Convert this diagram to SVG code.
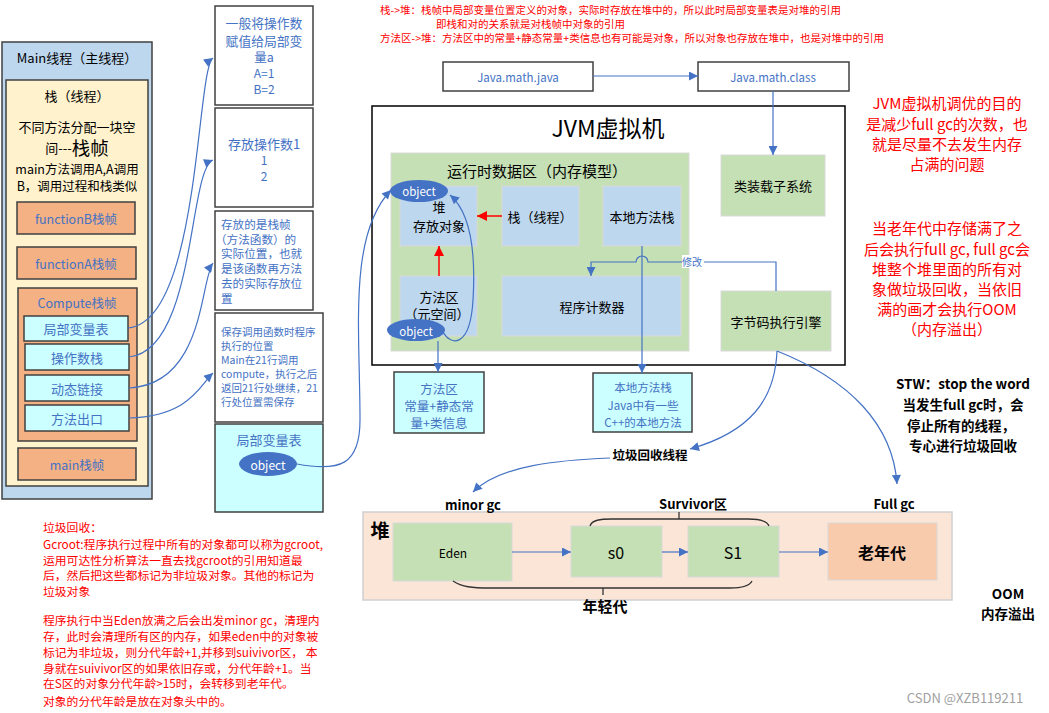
<svg xmlns="http://www.w3.org/2000/svg" width="1049" height="713" viewBox="0 0 1049 713">
<style>
text{font-family:"Noto Sans CJK SC","Liberation Sans",sans-serif;}
.c{text-anchor:middle;dominant-baseline:central;}
.l{dominant-baseline:central;}
.bl{fill:#4472C4;}
.k{fill:#000;}
.r{fill:#FF0000;}
.b{font-weight:bold;}
.box{stroke:#404040;stroke-width:1.5;}
.wb{fill:#fff;stroke:#404040;stroke-width:1.5;}
.cy{fill:#CCFFFF;stroke:#404040;stroke-width:1.5;}
.or{fill:#F4B183;stroke:#404040;stroke-width:1.5;}
.gr{fill:#C5E0B4;stroke:#D9D9D9;stroke-width:1;}
.lb{fill:#BDD7EE;stroke:#D9D9D9;stroke-width:1;}
.con{fill:none;stroke:#4472C4;stroke-width:1.2;}
.red{fill:none;stroke:#FF0000;stroke-width:1.5;}
.brace{fill:none;stroke:#333;stroke-width:1.3;}
.obj{fill:#4472C4;}
</style>
<defs>
<marker id="ab" viewBox="0 0 10 10" refX="10" refY="5" markerWidth="10" markerHeight="9" markerUnits="userSpaceOnUse" orient="auto"><path d="M0,0 L10,5 L0,10 z" fill="#4472C4"/></marker>
<marker id="ar" viewBox="0 0 10 10" refX="10" refY="5" markerWidth="11" markerHeight="10" markerUnits="userSpaceOnUse" orient="auto"><path d="M0,0 L10,5 L0,10 z" fill="#FF0000"/></marker>
</defs>
<rect width="1049" height="713" fill="#fff"/>

<!-- top red notes -->
<g id="note-top" font-size="10.5">
<text x="380" y="9" class="l r">栈-&gt;堆：栈帧中局部变量位置定义的对象，实际时存放在堆中的，所以此时局部变量表是对堆的引用</text>
<text x="436" y="23" class="l r">即栈和对的关系就是对栈帧中对象的引用</text>
<text x="380" y="37" class="l r">方法区-&gt;堆：方法区中的常量+静态常量+类信息也有可能是对象，所以对象也存放在堆中，也是对堆中的引用</text>
</g>

<!-- Main thread -->
<g id="main-thread">
<rect x="2" y="42" width="150" height="457" fill="#BDD7EE" class="box"/>
<text x="77" y="57" class="c k" font-size="13">Main线程（主线程）</text>
</g>
<g id="stack-thread">
<rect x="6" y="80" width="142" height="406" fill="#FFF2CC" class="box"/>
<text x="77" y="95" class="c k" font-size="13">栈（线程）</text>
<text x="77" y="126" class="c k" font-size="13">不同方法分配一块空</text>
<text x="77" y="147" class="c k" font-size="13">间---<tspan font-size="18.5">栈帧</tspan></text>
<text x="77" y="168" class="c k" font-size="12.5">main方法调用A,A调用</text>
<text x="77" y="185" class="c k" font-size="12.5">B，调用过程和栈类似</text>
</g>
<g id="functionB">
<rect x="17" y="202" width="118" height="32" class="or"/>
<text x="76" y="218" class="c bl" font-size="12.5">functionB栈帧</text>
</g>
<g id="functionA">
<rect x="17" y="247" width="119" height="32" class="or"/>
<text x="76" y="263" class="c bl" font-size="12.5">functionA栈帧</text>
</g>
<g id="compute">
<rect x="18" y="288" width="119" height="153" class="or"/>
<text x="77" y="302" class="c bl" font-size="12.5">Compute栈帧</text>
</g>
<g id="local-var">
<rect x="24" y="316" width="104" height="25" class="cy"/>
<text x="76" y="328.5" class="c bl" font-size="13">局部变量表</text>
</g>
<g id="operand-stack">
<rect x="25" y="344" width="104" height="26" class="cy"/>
<text x="77" y="357" class="c bl" font-size="13">操作数栈</text>
</g>
<g id="dynamic-link">
<rect x="25" y="375" width="104" height="26" class="cy"/>
<text x="77" y="388" class="c bl" font-size="13">动态链接</text>
</g>
<g id="method-exit">
<rect x="25" y="405" width="104" height="26" class="cy"/>
<text x="77" y="418" class="c bl" font-size="13">方法出口</text>
</g>
<g id="main-frame">
<rect x="18" y="448" width="118" height="32" class="or"/>
<text x="77" y="464" class="c bl" font-size="12.5">main栈帧</text>
</g>

<!-- middle description boxes -->
<g id="desc1">
<rect x="215" y="6" width="98" height="99" class="wb"/>
<text x="264" y="22.5" class="c bl" font-size="12.8">一般将操作数</text>
<text x="264" y="40" class="c bl" font-size="12.8">赋值给局部变</text>
<text x="264" y="56.5" class="c bl" font-size="12.5">量a</text>
<text x="264" y="72.5" class="c bl" font-size="12">A=1</text>
<text x="264" y="88.5" class="c bl" font-size="12">B=2</text>
</g>
<g id="desc2">
<rect x="215" y="108" width="98" height="99" class="wb"/>
<text x="264" y="143" class="c bl" font-size="13">存放操作数1</text>
<text x="264" y="159" class="c bl" font-size="12">1</text>
<text x="264" y="175" class="c bl" font-size="12">2</text>
</g>
<g id="desc3" font-size="11.6">
<rect x="215" y="211" width="98" height="99" class="wb"/>
<text x="221" y="224" class="l bl">存放的是栈帧</text>
<text x="215" y="238.7" class="l bl">（方法函数）的</text>
<text x="221" y="253.4" class="l bl">实际位置，也就</text>
<text x="221" y="268.1" class="l bl">是该函数再方法</text>
<text x="221" y="282.8" class="l bl">去的实际存放位</text>
<text x="221" y="297.5" class="l bl">置</text>
</g>
<g id="desc4" font-size="10.5">
<rect x="215" y="313" width="108" height="109" class="wb"/>
<text x="221" y="331" class="l bl">保存调用函数时程序</text>
<text x="221" y="345" class="l bl">执行的位置</text>
<text x="221" y="359" class="l bl">Main在21行调用</text>
<text x="221" y="373" class="l bl">compute，执行之后</text>
<text x="221" y="387" class="l bl">返回21行处继续，21</text>
<text x="221" y="401" class="l bl">行处位置需保存</text>
</g>
<g id="local-var-table">
<rect x="215" y="424" width="108" height="88" class="cy"/>
<text x="269" y="439" class="c bl" font-size="13">局部变量表</text>
<ellipse cx="268" cy="464" rx="29" ry="12" class="obj"/>
<text x="268" y="464" class="c" fill="#fff" font-size="12">object</text>
</g>

<!-- JVM -->
<g id="java-file">
<rect x="443" y="62" width="150" height="29" class="wb"/>
<text x="518" y="76.5" class="c bl" font-size="11.5">Java.math.java</text>
</g>
<g id="class-file">
<rect x="698" y="62" width="151" height="29" class="wb"/>
<text x="773" y="76.5" class="c bl" font-size="11.5">Java.math.class</text>
</g>
<g id="jvm">
<rect x="372" y="106" width="473" height="259" fill="#fff" stroke="#000" stroke-width="1.5"/>
<text x="608" y="127" class="c k" font-size="23">JVM虚拟机</text>
</g>
<g id="runtime-area">
<rect x="391" y="153" width="298" height="198" class="gr"/>
<text x="537" y="170" class="c k" font-size="15">运行时数据区（内存模型）</text>
</g>
<g id="heap-area">
<rect x="400" y="186" width="77" height="60" class="lb"/>
<text x="439" y="206" class="c k" font-size="13">堆</text>
<text x="439" y="225" class="c k" font-size="13">存放对象</text>
</g>
<g id="stack-area">
<rect x="502" y="186" width="77" height="60" class="lb"/>
<text x="540" y="216" class="c k" font-size="13">栈（线程）</text>
</g>
<g id="native-stack">
<rect x="603" y="186" width="78" height="60" class="lb"/>
<text x="642" y="216" class="c k" font-size="13">本地方法栈</text>
</g>
<g id="method-area">
<rect x="400" y="276" width="77" height="60" class="lb"/>
<text x="439" y="296" class="c k" font-size="13">方法区</text>
<text x="437" y="313" class="c k" font-size="13">（元空间）</text>
</g>
<g id="pc-counter">
<rect x="502" y="276" width="179" height="60" class="lb"/>
<text x="592" y="306" class="c k" font-size="13">程序计数器</text>
</g>
<g id="class-loader">
<rect x="721" y="155" width="104" height="61" class="gr"/>
<text x="773" y="185.5" class="c k" font-size="13">类装载子系统</text>
</g>
<g id="exec-engine">
<rect x="721" y="291" width="110" height="60" class="gr"/>
<text x="776" y="321" class="c k" font-size="13">字节码执行引擎</text>
</g>
<g id="object-heap">
<ellipse cx="419" cy="191" rx="29" ry="11" class="obj"/>
<text x="419" y="191" class="c" fill="#fff" font-size="11.5">object</text>
</g>
<g id="object-method">
<ellipse cx="416" cy="330" rx="29" ry="11" class="obj"/>
<text x="416" y="330.5" class="c" fill="#fff" font-size="11.5">object</text>
</g>
<g id="method-area-box">
<rect x="394" y="372" width="90" height="61" class="cy"/>
<text x="439" y="388" class="c bl" font-size="12.5">方法区</text>
<text x="439" y="405" class="c bl" font-size="12.5">常量+静态常</text>
<text x="439" y="422" class="c bl" font-size="12.5">量+类信息</text>
</g>
<g id="native-box">
<rect x="593" y="373" width="99" height="59" class="cy"/>
<text x="643" y="387" class="c bl" font-size="11.5">本地方法栈</text>
<text x="643" y="405" class="c bl" font-size="11.5">Java中有一些</text>
<text x="643" y="422" class="c bl" font-size="11.5">C++的本地方法</text>
</g>

<!-- heap / GC -->
<g id="heap">
<rect x="363" y="512" width="589" height="88" fill="#FBE5D6" stroke="#D0D0D0" stroke-width="1.5"/>
<text x="380" y="529" class="c k b" font-size="19">堆</text>
</g>
<g id="eden">
<rect x="393" y="523" width="119" height="58" class="gr"/>
<text x="453" y="552" class="c k" font-size="12">Eden</text>
</g>
<g id="s0">
<rect x="571" y="526" width="91" height="51" class="gr"/>
<text x="616" y="552" class="c k" font-size="16">s0</text>
</g>
<g id="s1">
<rect x="688" y="526" width="91" height="51" class="gr"/>
<text x="733" y="552" class="c k" font-size="16">S1</text>
</g>
<g id="old-gen">
<rect x="828" y="523" width="109" height="57" fill="#F8CBAD" stroke="#D9D9D9" stroke-width="1"/>
<text x="882" y="552" class="c k b" font-size="16">老年代</text>
</g>
<g id="labels-gc">
<text x="473" y="504" class="c k b" font-size="13">minor gc</text>
<text x="693" y="503" class="c k b" font-size="13">Survivor区</text>
<text x="894" y="503" class="c k b" font-size="13">Full gc</text>
<text x="605" y="605" class="c k b" font-size="15">年轻代</text>
<text x="1008" y="593" class="c k b" font-size="13.5">OOM</text>
<text x="1008" y="613" class="c k b" font-size="13.5">内存溢出</text>
<text x="650" y="454" class="c k b" font-size="12.5">垃圾回收线程</text>
</g>
<g id="braces">
<path class="brace" d="M590,526 C592,520 600,519 612,519 H748 C760,519 767,521 769,526"/>
<path class="brace" d="M679,519 V512"/>
<path class="brace" d="M453,581 C462,587 472,588 490,588 H730 C744,588 750,585 752,581"/>
<path class="brace" d="M603,588 V595"/>
</g>

<!-- right notes -->
<g id="note-right" font-size="15">
<text x="947" y="102" class="c r">JVM虚拟机调优的目的</text>
<text x="947" y="123" class="c r">是减少full gc的次数，也</text>
<text x="947" y="143" class="c r">就是尽量不去发生内存</text>
<text x="947" y="163" class="c r">占满的问题</text>
<text x="947" y="227" class="c r">当老年代中存储满了之</text>
<text x="947" y="248" class="c r">后会执行full gc, full gc会</text>
<text x="947" y="268" class="c r">堆整个堆里面的所有对</text>
<text x="947" y="288" class="c r">象做垃圾回收，当依旧</text>
<text x="947" y="308" class="c r">满的画才会执行OOM</text>
<text x="947" y="328" class="c r">（内存溢出）</text>
</g>
<g id="note-stw" font-size="13.5" font-weight="bold">
<text x="963" y="383" class="c k">STW：stop the word</text>
<text x="963" y="404" class="c k">当发生full gc时，会</text>
<text x="961" y="425" class="c k">停止所有的线程，</text>
<text x="963" y="445" class="c k">专心进行垃圾回收</text>
</g>
<g id="note-gc" font-size="11.8">
<text x="43" y="526" class="l r">垃圾回收：</text>
<text x="43" y="543" class="l r">Gcroot:程序执行过程中所有的对象都可以称为gcroot,</text>
<text x="43" y="559" class="l r">运用可达性分析算法一直去找gcroot的引用知道最</text>
<text x="43" y="574" class="l r">后，然后把这些都标记为非垃圾对象。其他的标记为</text>
<text x="43" y="590" class="l r">垃圾对象</text>
<text x="43" y="619" class="l r">程序执行中当Eden放满之后会出发minor gc，清理内</text>
<text x="43" y="635" class="l r">存，此时会清理所有区的内存，如果eden中的对象被</text>
<text x="43" y="651" class="l r">标记为非垃圾，则分代年龄+1,并移到suivivor区， 本</text>
<text x="43" y="667" class="l r">身就在suivivor区的如果依旧存或，分代年龄+1。当</text>
<text x="43" y="682" class="l r">在S区的对象分代年龄&gt;15时，会转移到老年代。</text>
<text x="43" y="700" class="l r">对象的分代年龄是放在对象头中的。</text>
</g>
<text x="965" y="697" class="c" fill="#A0A0A0" font-size="13">CSDN @XZB119211</text>

<!-- connectors -->
<g id="connectors">
<path class="con" marker-end="url(#ab)" d="M128,328 C200,322 196,70 213,58"/>
<path class="con" marker-end="url(#ab)" d="M129,357 C196,350 188,170 213,160"/>
<path class="con" marker-end="url(#ab)" d="M129,388 C205,384 200,280 213,263"/>
<path class="con" marker-end="url(#ab)" d="M129,418 C190,416 200,385 213,373"/>
<path class="con" marker-end="url(#ab)" d="M297,464 C340,472 360,465 360,420 C360,330 348,235 391,190"/>
<path class="con" marker-end="url(#ab)" d="M443,332 C450,345 470,350 473,300 C476,250 470,212 450,195"/>
<path class="con" marker-end="url(#ab)" d="M438,341 V372"/>
<path class="con" marker-end="url(#ab)" d="M642,246 V373"/>
<path class="con" marker-end="url(#ab)" d="M593,76 H698"/>
<path class="con" marker-end="url(#ab)" d="M773,91 V155"/>
<path class="con" marker-end="url(#ab)" d="M776,291 V262 H648 A6,6 0 0 0 636,262 H591 V276"/>
<path class="con" marker-end="url(#ab)" d="M777,351 C775,400 750,432 690,449"/>
<path class="con" marker-end="url(#ab)" d="M610,458 C560,460 500,465 473,492"/>
<path class="con" marker-end="url(#ab)" d="M777,351 C850,380 893,425 897,484"/>
<path class="con" marker-end="url(#ab)" d="M512,552 H571"/>
<path class="con" marker-end="url(#ab)" d="M662,552 H688"/>
<path class="con" marker-end="url(#ab)" d="M779,552 H828"/>
<path class="red" marker-end="url(#ar)" d="M502,216 H477"/>
<path class="red" marker-end="url(#ar)" d="M439,276 V246"/>
<rect x="682" y="255" width="22" height="13" fill="#fff"/>
<text x="692" y="261.5" class="c bl" font-size="10">修改</text>
</g>
</svg>
